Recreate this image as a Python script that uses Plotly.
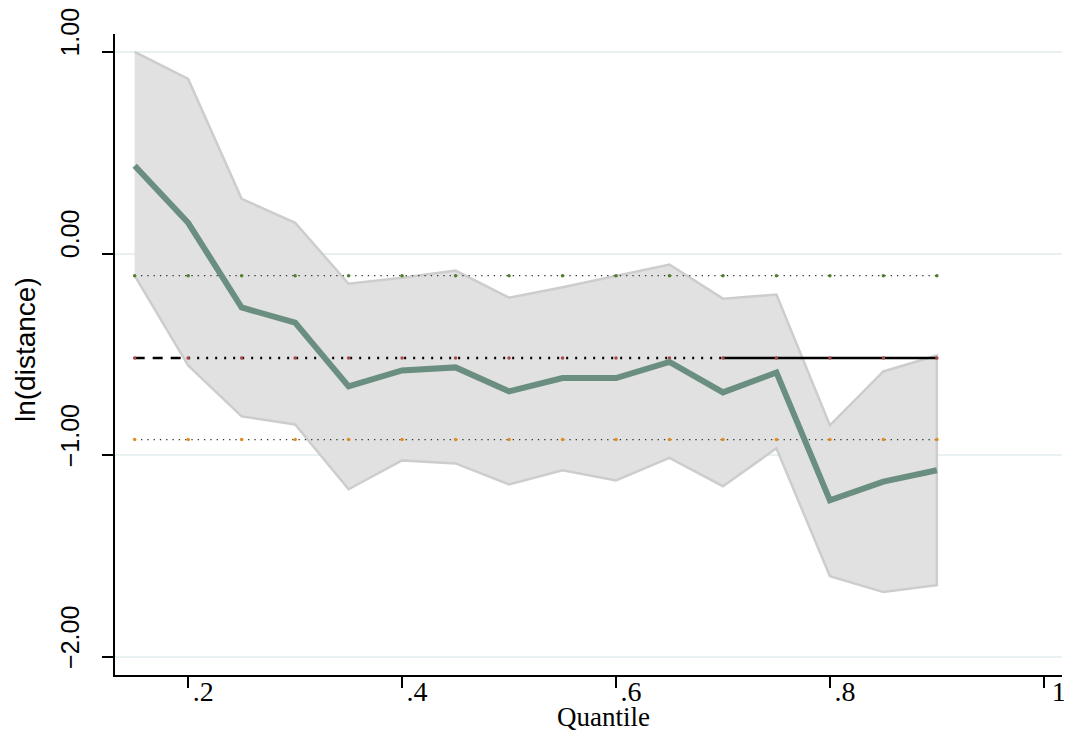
import plotly.graph_objects as go

# quantile regression estimates
quantiles = [0.15, 0.20, 0.25, 0.30, 0.35, 0.40, 0.45, 0.50,
             0.55, 0.60, 0.65, 0.70, 0.75, 0.80, 0.85, 0.90]
coef = [0.436, 0.153, -0.267, -0.342, -0.658, -0.579, -0.564, -0.683,
        -0.617, -0.617, -0.537, -0.688, -0.589, -1.223, -1.130, -1.074]
ci_upper = [1.000, 0.866, 0.272, 0.153, -0.149, -0.119, -0.084, -0.218,
            -0.167, -0.109, -0.054, -0.223, -0.203, -0.851, -0.584, -0.505]
ci_lower = [-0.109, -0.554, -0.807, -0.847, -1.168, -1.025, -1.040, -1.144,
            -1.074, -1.124, -1.013, -1.153, -0.965, -1.599, -1.678, -1.644]

# OLS estimate and its confidence bounds
ols_coef = -0.517
ols_upper = -0.109
ols_lower = -0.922

x_ticks = [0.2, 0.4, 0.6, 0.8, 1.0]
x_ticktext = [".2", ".4", ".6", ".8", "1"]
y_ticks = [1, 0, -1, -2]
y_ticktext = ["1.00", "0.00", "\u22121.00", "\u22122.00"]

GREEN = "#6a8e7f"
BAND = "#e1e1e1"
BAND_EDGE = "#cdcdcd"
GRID = "#e8f1f2"

# page body adds an 8px margin, so the figure is sized to fit inside the window
OFF = 8
W, H = 1072 - 2 * OFF, 738 - 2 * OFF
L, T = 115 - OFF, 34 - OFF
R = W - (1062 - OFF)
B = H - (675 - OFF)
PW = W - L - R
PH = H - T - B

fig = go.Figure()

# confidence band
fig.add_trace(go.Scatter(
    x=quantiles + quantiles[::-1],
    y=ci_upper + ci_lower[::-1],
    fill="toself",
    fillcolor=BAND,
    line=dict(color=BAND_EDGE, width=2.5),
    mode="lines",
    hoverinfo="skip",
))

n = len(quantiles)

# OLS bounds: dotted lines with coloured markers
for val, mcol in [(ols_upper, "#4f7f2e"), (ols_lower, "#e58a1f")]:
    fig.add_trace(go.Scatter(
        x=quantiles, y=[val] * n,
        mode="lines+markers",
        line=dict(color="#333333", width=1.3, dash="1.3px,5px"),
        marker=dict(color=mcol, size=3.5),
        hoverinfo="skip",
    ))

# OLS estimate: dashed / dotted / solid pieces
fig.add_trace(go.Scatter(
    x=quantiles[:2], y=[ols_coef] * 2, mode="lines",
    line=dict(color="black", width=2.4, dash="10px,8px"), hoverinfo="skip",
))
fig.add_trace(go.Scatter(
    x=quantiles[1:12], y=[ols_coef] * 11, mode="lines",
    line=dict(color="black", width=2.4, dash="2px,7px"), hoverinfo="skip",
))
fig.add_trace(go.Scatter(
    x=quantiles[11:], y=[ols_coef] * (n - 11), mode="lines",
    line=dict(color="black", width=2.4), hoverinfo="skip",
))
fig.add_trace(go.Scatter(
    x=quantiles, y=[ols_coef] * n, mode="markers",
    marker=dict(color="#a8454f", size=3.5), hoverinfo="skip",
))

# quantile coefficients
fig.add_trace(go.Scatter(
    x=quantiles, y=coef, mode="lines",
    line=dict(color=GREEN, width=6),
    hovertemplate="q=%{x}<br>%{y:.2f}<extra></extra>",
))

fig.update_layout(
    width=W, height=H,
    margin=dict(l=L, r=R, t=T, b=B, autoexpand=False),
    paper_bgcolor="white", plot_bgcolor="white",
    showlegend=False,
    xaxis=dict(
        range=[0.1316, 1.017], automargin=False,
        tickvals=x_ticks, ticktext=x_ticktext,
        ticks="outside", ticklen=11, tickwidth=1.5, tickcolor="black",
        ticklabelshift=15, ticklabelstandoff=-20, ticklabeloverflow="allow",
        showline=True, linecolor="black", linewidth=1.5,
        showgrid=False, zeroline=False,
        tickfont=dict(family="Liberation Serif", size=28, color="black"),
    ),
    yaxis=dict(
        range=[-2.089, 1.089], automargin=False,
        tickvals=y_ticks, ticktext=y_ticktext,
        tickangle=-90,
        ticks="outside", ticklen=11, tickwidth=1.5, tickcolor="black",
        ticklabelshift=-16, ticklabelstandoff=13, ticklabeloverflow="allow",
        showline=True, linecolor="black", linewidth=1.5,
        showgrid=True, gridcolor=GRID, gridwidth=2, zeroline=False,
        tickfont=dict(family="Liberation Sans", size=25, color="black"),
    ),
)

# axis titles placed where the reference has them
fig.add_annotation(
    text="ln(distance)", xref="paper", yref="paper",
    x=(25 - 115) / PW, y=(675 - 350) / PH, textangle=-90,
    xanchor="center", yanchor="middle", showarrow=False,
    font=dict(family="Liberation Sans", size=28, color="black"),
)
fig.add_annotation(
    text="Quantile", xref="paper", yref="paper",
    x=(603 - 115) / PW, y=-(717 - 675) / PH,
    xanchor="center", yanchor="middle", showarrow=False,
    font=dict(family="Liberation Serif", size=27, color="black"),
)

fig.write_html("out.html")
